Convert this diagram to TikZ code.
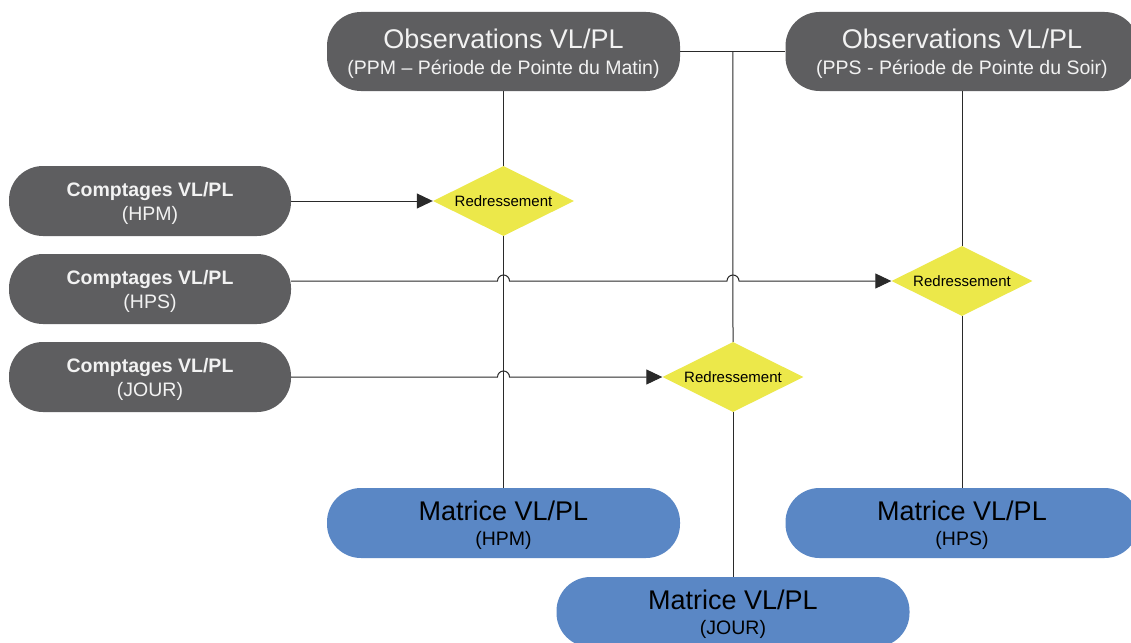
\documentclass[tikz,border=0pt]{standalone}
\usepackage{fontspec}
\setmainfont{Liberation Sans}
\usetikzlibrary{shapes.geometric,arrows.meta,calc}
\definecolor{darkbox}{HTML}{5E5E60}
\definecolor{bluebox}{HTML}{5A87C5}
\definecolor{yelbox}{HTML}{ECE84A}
\definecolor{boxtext}{HTML}{F2F2F2}
\definecolor{linec}{HTML}{2A2A2A}
\newcommand{\bigline}[1]{{\fontsize{27}{27}\selectfont #1}}
\begin{document}
\begin{tikzpicture}[x=1pt,y=-1pt,
  obsbox/.style={draw=none,fill=darkbox,text=boxtext,rounded corners=34pt,minimum width=353pt,minimum height=79pt,align=center,inner sep=0pt,font=\fontsize{19.5}{26}\selectfont,text depth=-1pt},
  cntbox/.style={draw=none,fill=darkbox,text=boxtext,rounded corners=34pt,minimum width=282pt,minimum height=70pt,align=center,inner sep=0pt,font=\fontsize{19.5}{24}\selectfont,text depth=0pt},
  matbox/.style={draw=none,fill=bluebox,text=black,rounded corners=34pt,minimum width=353pt,minimum height=70pt,align=center,inner sep=0pt,font=\fontsize{19.5}{25}\selectfont,text depth=0pt},
  redbox/.style={diamond,draw=none,fill=yelbox,minimum width=141pt,minimum height=70pt,inner sep=0pt,aspect=2,font=\fontsize{15}{17}\selectfont},
  conn/.style={draw=linec,line width=1pt},
  arr/.style={conn,-{Triangle[length=16pt,width=15pt]}}
]
\useasboundingbox (0,0) rectangle (1131,642);
\clip (0,0) rectangle (1131,642);
\fill[white] (0,0) rectangle (1131,642);

\node[obsbox] (obs1) at (503.5,51.5) {\bigline{Observations VL/PL}\\(PPM – Période de Pointe du Matin)};
\node[obsbox] (obs2) at (962,51.5) {\bigline{Observations VL/PL}\\(PPS - Période de Pointe du Soir)};

\node[cntbox] (c1) at (150,201) {\textbf{Comptages VL/PL}\\(HPM)};
\node[cntbox] (c2) at (150,289) {\textbf{Comptages VL/PL}\\(HPS)};
\node[cntbox] (c3) at (150,377) {\textbf{Comptages VL/PL}\\(JOUR)};

\node[redbox] (d1) at (503.5,201) {Redressement};
\node[redbox] (d2) at (962,281) {Redressement};
\node[redbox] (d3) at (733,377) {Redressement};

\node[matbox] (m1) at (503.5,523) {\bigline{Matrice VL/PL}\\(HPM)};
\node[matbox] (m2) at (962,523) {\bigline{Matrice VL/PL}\\(HPS)};
\node[matbox] (m3) at (733,612) {\bigline{Matrice VL/PL}\\(JOUR)};

\coordinate (j) at ($(obs1.east)!0.5!(obs2.west)$);

% vertical lines
\draw[conn] (obs1.south) -- (d1.north);
\draw[conn] (d1.south) -- (m1.north);
\draw[conn] (obs1.east) -- (obs2.west);
\draw[conn] (j) -- (d3.north);
\draw[conn] (d3.south) -- (m3.north);
\draw[conn] (obs2.south) -- (d2.north);
\draw[conn] (d2.south) -- (m2.north);

% horizontal arrows
\draw[arr] (c1.east) -- (d1.west);
\draw[arr] (c2.east |- d2.west)
  -- ($(d1.south |- d2.west)+(-6,0)$) arc[start angle=180,end angle=0,radius=6pt]
  -- ($(d3.north |- d2.west)+(-6,0)$) arc[start angle=180,end angle=0,radius=6pt]
  -- (d2.west);
\draw[arr] (c3.east)
  -- ($(d1.south |- c3.east)+(-6,0)$) arc[start angle=180,end angle=0,radius=6pt]
  -- (d3.west);
\end{tikzpicture}
\end{document}
